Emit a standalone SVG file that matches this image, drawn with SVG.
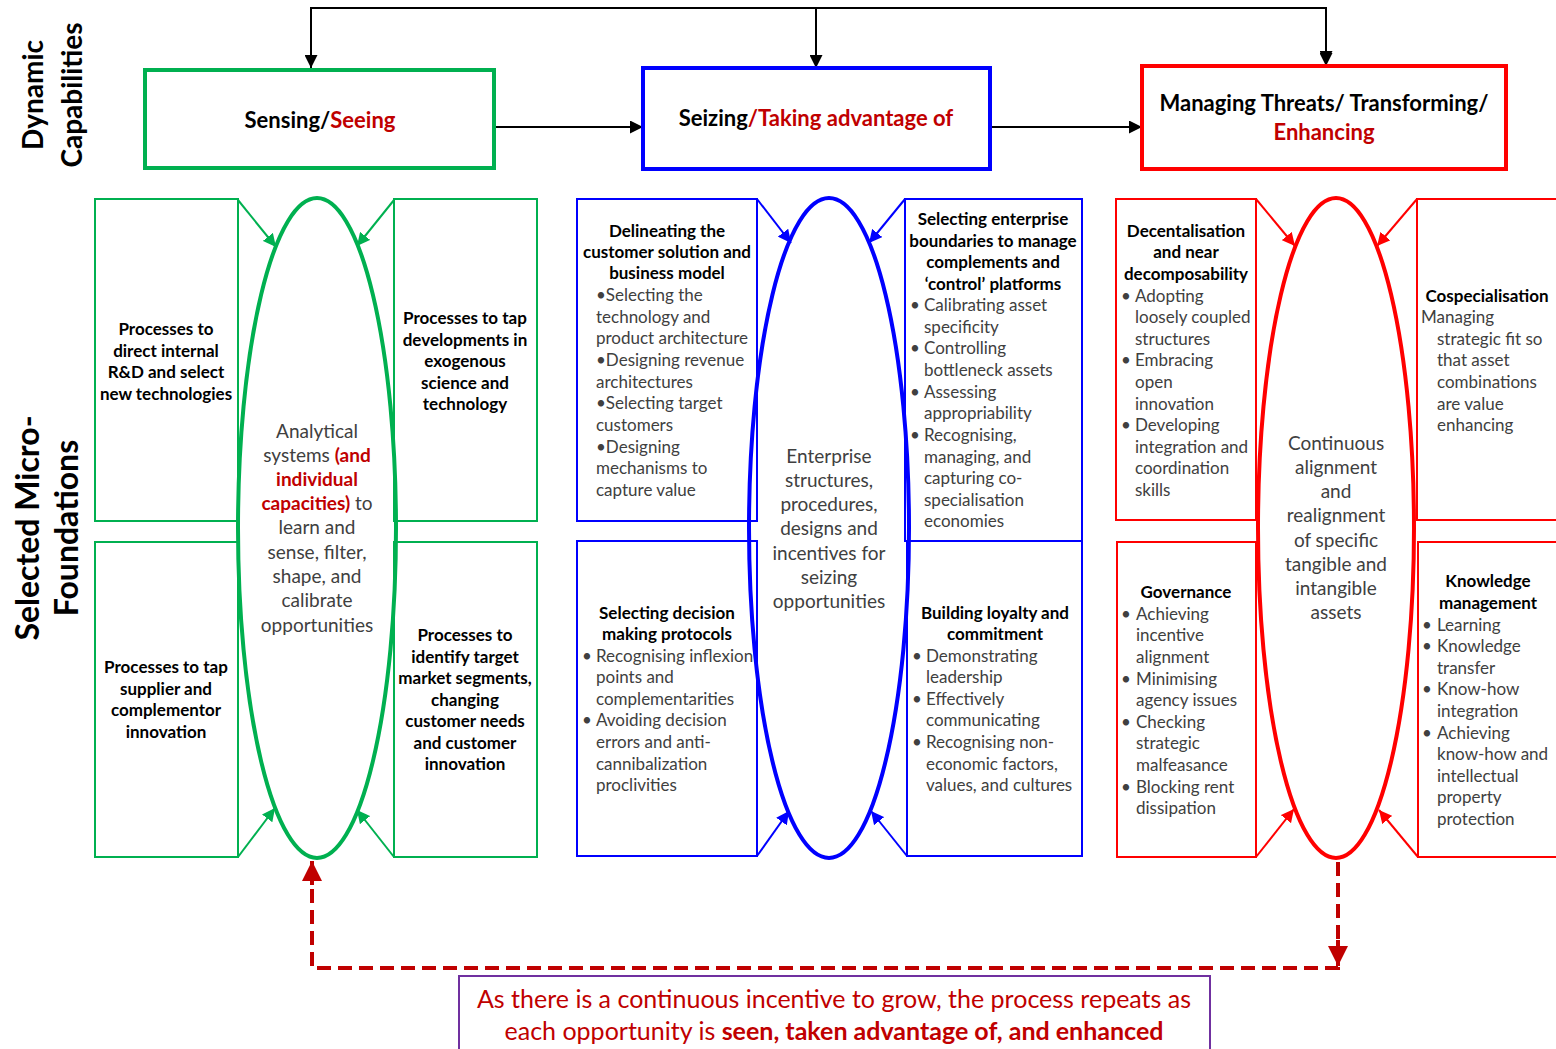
<svg xmlns="http://www.w3.org/2000/svg" width="1556" height="1049" viewBox="0 0 1556 1049">
<style>
text{font-family:Lato,"Liberation Sans",sans-serif}
.t{font-size:22px;font-weight:bold;fill:#000;text-anchor:middle}
.r{fill:#C00000}
.h{font-size:17px;font-weight:bold;fill:#000;text-anchor:middle}
.b{font-size:17px;fill:#404040}
.c{font-size:19px;fill:#404040;text-anchor:middle}
.side{font-weight:bold;fill:#000;text-anchor:middle}
.g{stroke:#00B050;fill:none}
.bl{stroke:#0000FF;fill:none}
.rd{stroke:#FF0000;fill:none}
.box{stroke-width:2;fill:#fff}
.big{stroke-width:4;fill:#fff}
.ell{stroke-width:4;fill:none}
.k{stroke:#000;stroke-width:2;fill:none}
</style>
<defs>
<marker id="ak" viewBox="0 0 10 10" refX="10" refY="5" markerWidth="13" markerHeight="13" markerUnits="userSpaceOnUse" orient="auto"><path d="M0,0 L10,5 L0,10 z" fill="#000"/></marker>
<marker id="ag" viewBox="0 0 10 10" refX="10" refY="5" markerWidth="13" markerHeight="13" markerUnits="userSpaceOnUse" orient="auto"><path d="M0,0 L10,5 L0,10 z" fill="#00B050"/></marker>
<marker id="ab" viewBox="0 0 10 10" refX="10" refY="5" markerWidth="13" markerHeight="13" markerUnits="userSpaceOnUse" orient="auto"><path d="M0,0 L10,5 L0,10 z" fill="#0000FF"/></marker>
<marker id="ar" viewBox="0 0 10 10" refX="10" refY="5" markerWidth="13" markerHeight="13" markerUnits="userSpaceOnUse" orient="auto"><path d="M0,0 L10,5 L0,10 z" fill="#FF0000"/></marker>
<marker id="ad" viewBox="0 0 10 10" refX="10" refY="5" markerWidth="20" markerHeight="20" markerUnits="userSpaceOnUse" orient="auto"><path d="M0,0 L10,5 L0,10 z" fill="#C00000"/></marker>
</defs>
<rect width="1556" height="1049" fill="#fff"/>

<g id="side-labels">
<text class="side" style="font-size:28px" transform="translate(43,95) rotate(-90)"><tspan x="0" y="0">Dynamic</tspan><tspan x="0" y="39">Capabilities</tspan></text>
<text class="side" style="font-size:32px" transform="translate(39,528) rotate(-90)"><tspan x="0" y="0">Selected Micro-</tspan><tspan x="0" y="39">Foundations</tspan></text>
</g>

<g id="connectors">
<path class="k" d="M311,66 V8 H1326 V64" marker-end="url(#ak)"/>
<path class="k" d="M311,8 V68" marker-end="url(#ak)"/>
<path class="k" d="M816,8 V68" marker-end="url(#ak)"/>
<path class="k" d="M1326,8 V66" marker-end="url(#ak)"/>
<path class="k" d="M494,127 H643" marker-end="url(#ak)"/>
<path class="k" d="M990,127 H1142" marker-end="url(#ak)"/>
<path class="g" stroke-width="2" d="M238,200 L276,247" marker-end="url(#ag)"/>
<path class="g" stroke-width="2" d="M394,200 L357,246" marker-end="url(#ag)"/>
<path class="g" stroke-width="2" d="M238,857 L275,808" marker-end="url(#ag)"/>
<path class="g" stroke-width="2" d="M394,857 L357,810" marker-end="url(#ag)"/>
<path class="bl" stroke-width="2" d="M757,199 L791,243" marker-end="url(#ab)"/>
<path class="bl" stroke-width="2" d="M905,199 L869,243" marker-end="url(#ab)"/>
<path class="bl" stroke-width="2" d="M757,856 L789,811" marker-end="url(#ab)"/>
<path class="bl" stroke-width="2" d="M907,856 L871,811" marker-end="url(#ab)"/>
<path class="rd" stroke-width="2" d="M1256,199 L1295,246" marker-end="url(#ar)"/>
<path class="rd" stroke-width="2" d="M1417,199 L1377,246" marker-end="url(#ar)"/>
<path class="rd" stroke-width="2" d="M1256,857 L1294,809" marker-end="url(#ar)"/>
<path class="rd" stroke-width="2" d="M1418,857 L1379,810" marker-end="url(#ar)"/>
<path d="M1338,862 V968 H312 V880" fill="none" stroke="#C00000" stroke-width="4" stroke-dasharray="14,7"/>
<path d="M312,885 V861" fill="none" stroke="#C00000" stroke-width="4" marker-end="url(#ad)"/>
<path d="M1338,940 V966" fill="none" stroke="#C00000" stroke-width="4" marker-end="url(#ad)"/>
</g>

<g id="sensing">
<rect class="g big" x="145" y="70" width="349" height="98"/>
<text class="t" x="320" y="128">Sensing/<tspan class="r">Seeing</tspan></text>
</g>
<g id="seizing">
<rect class="bl big" x="643" y="68" width="347" height="101"/>
<text class="t" x="816" y="126">Seizing<tspan class="r">/Taking advantage of</tspan></text>
</g>
<g id="managing">
<rect class="rd big" x="1142" y="66" width="364" height="103"/>
<text class="t" x="1324" y="111">Managing Threats/ Transforming/</text>
<text class="t r" x="1324" y="140">Enhancing</text>
</g>

<!-- Green section -->
<g id="g-tl">
<rect class="g box" x="95" y="199" width="143" height="322"/>
<text class="h"><tspan x="166" y="335">Processes to</tspan><tspan x="166" y="356.5">direct internal</tspan><tspan x="166" y="378">R&amp;D and select</tspan><tspan x="166" y="399.5">new technologies</tspan></text>
</g>
<g id="g-tr">
<rect class="g box" x="394" y="199" width="143" height="322"/>
<text class="h"><tspan x="465" y="324">Processes to tap</tspan><tspan x="465" y="345.5">developments in</tspan><tspan x="465" y="367">exogenous</tspan><tspan x="465" y="388.5">science and</tspan><tspan x="465" y="410">technology</tspan></text>
</g>
<g id="g-bl">
<rect class="g box" x="95" y="542" width="143" height="315"/>
<text class="h"><tspan x="166" y="673">Processes to tap</tspan><tspan x="166" y="694.5">supplier and</tspan><tspan x="166" y="716">complementor</tspan><tspan x="166" y="737.5">innovation</tspan></text>
</g>
<g id="g-br">
<rect class="g box" x="394" y="542" width="143" height="315"/>
<text class="h"><tspan x="465" y="641">Processes to</tspan><tspan x="465" y="662.5">identify target</tspan><tspan x="465" y="684">market segments,</tspan><tspan x="465" y="705.5">changing</tspan><tspan x="465" y="727">customer needs</tspan><tspan x="465" y="748.5">and customer</tspan><tspan x="465" y="770">innovation</tspan></text>
</g>
<g id="g-ellipse">
<ellipse class="g ell" cx="317" cy="528" rx="79" ry="330"/>
<text class="c"><tspan x="317" y="438">Analytical</tspan><tspan x="317" y="462">systems <tspan class="r" font-weight="bold">(and</tspan></tspan><tspan x="317" y="486" class="r" font-weight="bold">individual</tspan><tspan x="317" y="510"><tspan class="r" font-weight="bold">capacities)</tspan> to</tspan><tspan x="317" y="534">learn and</tspan><tspan x="317" y="559">sense, filter,</tspan><tspan x="317" y="583">shape, and</tspan><tspan x="317" y="607">calibrate</tspan><tspan x="317" y="632">opportunities</tspan></text>
</g>

<!-- Blue section -->
<g id="b-tl">
<rect class="bl box" x="577" y="199" width="180" height="322"/>
<text class="h"><tspan x="667" y="237">Delineating the</tspan><tspan x="667" y="258">customer solution and</tspan><tspan x="667" y="279">business model</tspan></text>
<text class="b"><tspan x="596" y="301">•Selecting the</tspan><tspan x="596" y="323">technology and</tspan><tspan x="596" y="344">product architecture</tspan><tspan x="596" y="366">•Designing revenue</tspan><tspan x="596" y="388">architectures</tspan><tspan x="596" y="409">•Selecting target</tspan><tspan x="596" y="431">customers</tspan><tspan x="596" y="453">•Designing</tspan><tspan x="596" y="474">mechanisms to</tspan><tspan x="596" y="496">capture value</tspan></text>
</g>
<g id="b-tr">
<rect class="bl box" x="905" y="199" width="177" height="342"/>
<text class="h"><tspan x="993" y="225">Selecting enterprise</tspan><tspan x="993" y="247">boundaries to manage</tspan><tspan x="993" y="268">complements and</tspan><tspan x="993" y="290">‘control’ platforms</tspan></text>
<text class="b"><tspan x="910" y="311">•</tspan><tspan x="910" y="354">•</tspan><tspan x="910" y="398">•</tspan><tspan x="910" y="441">•</tspan></text>
<text class="b"><tspan x="924" y="311">Calibrating asset</tspan><tspan x="924" y="333">specificity</tspan><tspan x="924" y="354">Controlling</tspan><tspan x="924" y="376">bottleneck assets</tspan><tspan x="924" y="398">Assessing</tspan><tspan x="924" y="419">appropriability</tspan><tspan x="924" y="441">Recognising,</tspan><tspan x="924" y="463">managing, and</tspan><tspan x="924" y="484">capturing co-</tspan><tspan x="924" y="506">specialisation</tspan><tspan x="924" y="527">economies</tspan></text>
</g>
<g id="b-bl">
<rect class="bl box" x="577" y="541" width="180" height="315"/>
<text class="h"><tspan x="667" y="619">Selecting decision</tspan><tspan x="667" y="640">making protocols</tspan></text>
<text class="b"><tspan x="582" y="662">•</tspan><tspan x="582" y="726">•</tspan></text>
<text class="b"><tspan x="596" y="662">Recognising inflexion</tspan><tspan x="596" y="683">points and</tspan><tspan x="596" y="705">complementarities</tspan><tspan x="596" y="726">Avoiding decision</tspan><tspan x="596" y="748">errors and anti-</tspan><tspan x="596" y="770">cannibalization</tspan><tspan x="596" y="791">proclivities</tspan></text>
</g>
<g id="b-br">
<rect class="bl box" x="907" y="541" width="175" height="315"/>
<text class="h"><tspan x="995" y="619">Building loyalty and</tspan><tspan x="995" y="640">commitment</tspan></text>
<text class="b"><tspan x="912" y="662">•</tspan><tspan x="912" y="705">•</tspan><tspan x="912" y="748">•</tspan></text>
<text class="b"><tspan x="926" y="662">Demonstrating</tspan><tspan x="926" y="683">leadership</tspan><tspan x="926" y="705">Effectively</tspan><tspan x="926" y="726">communicating</tspan><tspan x="926" y="748">Recognising non-</tspan><tspan x="926" y="770">economic factors,</tspan><tspan x="926" y="791">values, and cultures</tspan></text>
</g>
<g id="b-ellipse">
<ellipse class="bl ell" cx="829" cy="528" rx="80" ry="330"/>
<text class="c"><tspan x="829" y="463">Enterprise</tspan><tspan x="829" y="487">structures,</tspan><tspan x="829" y="511">procedures,</tspan><tspan x="829" y="535">designs and</tspan><tspan x="829" y="560">incentives for</tspan><tspan x="829" y="584">seizing</tspan><tspan x="829" y="608">opportunities</tspan></text>
</g>

<!-- Red section -->
<g id="r-tl">
<rect class="rd box" x="1116" y="199" width="140" height="321"/>
<text class="h"><tspan x="1186" y="237">Decentalisation</tspan><tspan x="1186" y="258">and near</tspan><tspan x="1186" y="280">decomposability</tspan></text>
<text class="b"><tspan x="1121" y="302">•</tspan><tspan x="1121" y="366">•</tspan><tspan x="1121" y="431">•</tspan></text>
<text class="b"><tspan x="1135" y="302">Adopting</tspan><tspan x="1135" y="323">loosely coupled</tspan><tspan x="1135" y="345">structures</tspan><tspan x="1135" y="366">Embracing</tspan><tspan x="1135" y="388">open</tspan><tspan x="1135" y="410">innovation</tspan><tspan x="1135" y="431">Developing</tspan><tspan x="1135" y="453">integration and</tspan><tspan x="1135" y="474">coordination</tspan><tspan x="1135" y="496">skills</tspan></text>
</g>
<g id="r-tr">
<rect class="rd box" x="1417" y="199" width="145" height="321"/>
<text class="h"><tspan x="1487" y="302">Cospecialisation</tspan></text>
<text class="b"><tspan x="1421" y="323">Managing</tspan><tspan x="1437" y="345">strategic fit so</tspan><tspan x="1437" y="366">that  asset</tspan><tspan x="1437" y="388">combinations</tspan><tspan x="1437" y="410">are value</tspan><tspan x="1437" y="431">enhancing</tspan></text>
</g>
<g id="r-bl">
<rect class="rd box" x="1117" y="542" width="139" height="315"/>
<text class="h"><tspan x="1186" y="598">Governance</tspan></text>
<text class="b"><tspan x="1121" y="620">•</tspan><tspan x="1121" y="685">•</tspan><tspan x="1121" y="728">•</tspan><tspan x="1121" y="793">•</tspan></text>
<text class="b"><tspan x="1136" y="620">Achieving</tspan><tspan x="1136" y="641">incentive</tspan><tspan x="1136" y="663">alignment</tspan><tspan x="1136" y="685">Minimising</tspan><tspan x="1136" y="706">agency issues</tspan><tspan x="1136" y="728">Checking</tspan><tspan x="1136" y="749">strategic</tspan><tspan x="1136" y="771">malfeasance</tspan><tspan x="1136" y="793">Blocking rent</tspan><tspan x="1136" y="814">dissipation</tspan></text>
</g>
<g id="r-br">
<rect class="rd box" x="1418" y="542" width="144" height="315"/>
<text class="h"><tspan x="1488" y="587">Knowledge</tspan><tspan x="1488" y="609">management</tspan></text>
<text class="b"><tspan x="1422" y="631">•</tspan><tspan x="1422" y="652">•</tspan><tspan x="1422" y="695">•</tspan><tspan x="1422" y="739">•</tspan></text>
<text class="b"><tspan x="1437" y="631">Learning</tspan><tspan x="1437" y="652">Knowledge</tspan><tspan x="1437" y="674">transfer</tspan><tspan x="1437" y="695">Know-how</tspan><tspan x="1437" y="717">integration</tspan><tspan x="1437" y="739">Achieving</tspan><tspan x="1437" y="760">know-how and</tspan><tspan x="1437" y="782">intellectual</tspan><tspan x="1437" y="803">property</tspan><tspan x="1437" y="825">protection</tspan></text>
</g>
<g id="r-ellipse">
<ellipse class="rd ell" cx="1336" cy="528" rx="78" ry="330"/>
<text class="c"><tspan x="1336" y="450">Continuous</tspan><tspan x="1336" y="474">alignment</tspan><tspan x="1336" y="498">and</tspan><tspan x="1336" y="522">realignment</tspan><tspan x="1336" y="547">of specific</tspan><tspan x="1336" y="571">tangible and</tspan><tspan x="1336" y="595">intangible</tspan><tspan x="1336" y="619">assets</tspan></text>
</g>

<g id="note">
<rect x="459" y="976" width="751" height="80" fill="#fff" stroke="#7030A0" stroke-width="2"/>
<text style="font-size:25px;text-anchor:middle" fill="#C00000"><tspan x="834" y="1008">As there is a continuous incentive to grow, the process repeats as</tspan><tspan x="834" y="1040">each opportunity is <tspan font-weight="bold">seen, taken advantage of, and enhanced</tspan></tspan></text>
</g>
</svg>
